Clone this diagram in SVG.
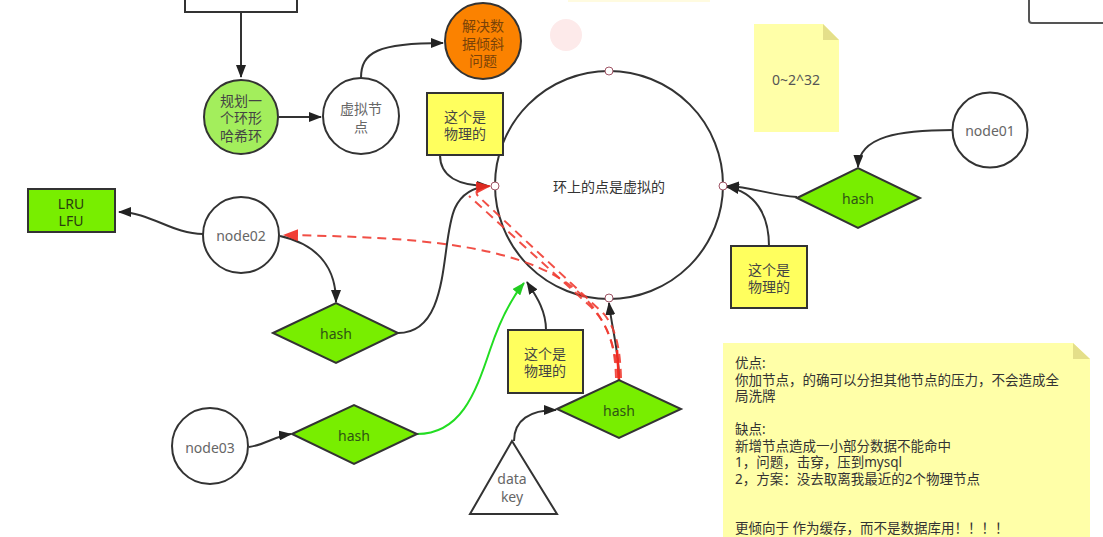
<svg xmlns="http://www.w3.org/2000/svg" width="1103" height="537" viewBox="0 0 1103 537">
<style>
text{font-family:"Noto Sans","Noto Sans CJK SC",sans-serif;font-size:14px;text-anchor:middle;dominant-baseline:central}
.ln{fill:none;stroke:#333;stroke-width:2}
.rd{fill:none;stroke:#f03c32;stroke-width:2;stroke-dasharray:9 6;opacity:0.9}
.gr{fill:none;stroke:#22dd22;stroke-width:2}
.dia{fill:#78ee00;stroke:#333;stroke-width:2}
.ybox{fill:#ffff5e;stroke:#333;stroke-width:2}
.wc{fill:#fff;stroke:#333;stroke-width:2}
.pt{fill:#fff;stroke:#a05566;stroke-width:1}
.note{fill:#ffffa8}
.fold{fill:#e4df8a}
.t{fill:#444}
.g{fill:#666}
.h{fill:#2f5514}
.n{font-size:13.5px;text-anchor:start;fill:#333}
</style>
<defs>
<marker id="ab" markerUnits="userSpaceOnUse" markerWidth="13" markerHeight="10" refX="12" refY="5" orient="auto" viewBox="0 0 13 10"><path d="M0,0 L13,5 L0,10 z" fill="#222"/></marker>
<marker id="ar" markerUnits="userSpaceOnUse" markerWidth="15" markerHeight="12" refX="14" refY="6" orient="auto" viewBox="0 0 15 12"><path d="M0,0 L15,6 L0,12 z" fill="#f02a20"/></marker>
<marker id="ag" markerUnits="userSpaceOnUse" markerWidth="13" markerHeight="10" refX="12" refY="5" orient="auto" viewBox="0 0 13 10"><path d="M0,0 L13,5 L0,10 z" fill="#22cc22"/></marker>
</defs>
<rect width="1103" height="537" fill="#fff"/>
<rect x="568" y="0" width="142" height="2" fill="#fffbe0"/>
<circle cx="566" cy="35" r="16" fill="#fdeaea"/>

<g id="ring">
<circle cx="609" cy="185" r="114" fill="none" stroke="#333" stroke-width="2"/>
<text x="609" y="186" fill="#333">环上的点是虚拟的</text>
</g>

<g id="connectors">
<path class="ln" d="M241,12 L241,77" marker-end="url(#ab)"/>
<path class="ln" d="M279,117 L321,117" marker-end="url(#ab)"/>
<path class="ln" d="M361,78 C361,52 378,43 443,43" marker-end="url(#ab)"/>
<path class="ln" d="M440,155 C440,176 458,186 489,186" marker-end="url(#ab)"/>
<path class="ln" d="M398,333 C452,333 440,240 455,208 C462,193 474,187 489,186"/>
<path class="ln" d="M203,234 C172,234 150,212 119,212" marker-end="url(#ab)"/>
<path class="ln" d="M280,236 C320,245 336,270 336,302" marker-end="url(#ab)"/>
<path class="ln" d="M953,130 C900,130 859,136 858,167" marker-end="url(#ab)"/>
<path class="ln" d="M797,197 C770,195 752,187 727,186" marker-end="url(#ab)"/>
<path class="ln" d="M769,246 C769,214 755,192 727,187" marker-end="url(#ab)"/>
<path class="ln" d="M249,447 C265,445 275,436 291,434" marker-end="url(#ab)"/>
<path class="gr" d="M417,434 C460,434 475,395 490,350 C500,320 510,300 524,283" marker-end="url(#ag)"/>
<path class="ln" d="M546,330 C546,310 536,296 527,282" marker-end="url(#ab)"/>
<path class="ln" d="M619,380 C619,350 612,330 609,303" marker-end="url(#ab)"/>
<path class="ln" d="M514,441 C514,420 530,410 556,410" marker-end="url(#ab)"/>
<path class="rd" d="M618,378 C610,250 470,238 284,235" marker-end="url(#ar)"/>
<path class="rd" d="M616,378 C615,342 607,323 590,306 L469,196"/>
<path class="rd" d="M621,378 C620,345 615,328 604,314 L478,196 Q472,188 490,186" marker-end="url(#ar)"/>
<path d="M619,380 L617,350" fill="none" stroke="#f02a20" stroke-width="2.5"/>
</g>

<g id="ring-points">
<circle cx="609" cy="71" r="4" class="pt"/>
<circle cx="495" cy="186" r="4" class="pt"/>
<circle cx="723" cy="186" r="4" class="pt"/>
<circle cx="609" cy="298" r="4" class="pt"/>
</g>

<g id="topbox"><rect x="185" y="-10" width="112" height="22" fill="#fff" stroke="#333" stroke-width="2"/></g>
<g id="topright"><rect x="1029" y="-10" width="90" height="33" rx="3" fill="#fff" stroke="#555" stroke-width="2"/></g>

<g id="ring-plan">
<circle cx="241" cy="117" r="37" fill="#a3ee5c" stroke="#333" stroke-width="2"/>
<text x="241" y="100" class="t">规划一</text>
<text x="241" y="117" class="t">个环形</text>
<text x="241" y="135" class="t">哈希环</text>
</g>
<g id="virtual-node">
<circle cx="361" cy="116" r="38" class="wc"/>
<text x="361" y="108" class="g">虚拟节</text>
<text x="361" y="126" class="g">点</text>
</g>
<g id="skew">
<circle cx="483" cy="41" r="38" fill="#fb8200" stroke="#333" stroke-width="2"/>
<text x="483" y="25" fill="#7a4208">解决数</text>
<text x="483" y="43" fill="#7a4208">据倾斜</text>
<text x="483" y="60" fill="#7a4208">问题</text>
</g>
<g id="phys1">
<rect x="427" y="93" width="76" height="62" class="ybox"/>
<text x="465" y="116" class="t">这个是</text>
<text x="465" y="133" class="t">物理的</text>
</g>
<g id="range-note">
<polygon points="754,24 823,24 839,40 839,132 754,132" class="note"/>
<polygon points="823,24 823,40 839,40" class="fold"/>
<text x="796" y="79" fill="#555" font-size="13">0~2^32</text>
</g>
<g id="node01">
<circle cx="990" cy="130" r="37.5" class="wc"/>
<text x="990" y="130" class="g">node01</text>
</g>
<g id="hash1">
<polygon points="797,198 858,168 920,198 858,228" class="dia"/>
<text x="858" y="198" class="h">hash</text>
</g>
<g id="phys2">
<rect x="731" y="246" width="76" height="62" class="ybox"/>
<text x="769" y="269" class="t">这个是</text>
<text x="769" y="286" class="t">物理的</text>
</g>
<g id="lru">
<rect x="28" y="189" width="87" height="43" fill="#78ee00" stroke="#333" stroke-width="2"/>
<text x="71" y="203" fill="#2a3d10">LRU</text>
<text x="71" y="220" fill="#2a3d10">LFU</text>
</g>
<g id="node02">
<circle cx="241" cy="235" r="38" class="wc"/>
<text x="241" y="235" class="g">node02</text>
</g>
<g id="hash2">
<polygon points="273,333 336,303 398,333 336,363" class="dia"/>
<text x="336" y="333" class="h">hash</text>
</g>
<g id="node03">
<circle cx="210" cy="446" r="38" class="wc"/>
<text x="210" y="447" class="g">node03</text>
</g>
<g id="hash3">
<polygon points="292,434 354,405 417,434 354,464" class="dia"/>
<text x="354" y="435" class="h">hash</text>
</g>
<g id="phys3">
<rect x="508" y="330" width="75" height="63" class="ybox"/>
<text x="545" y="353" class="t">这个是</text>
<text x="545" y="370" class="t">物理的</text>
</g>
<g id="hash4">
<polygon points="557,409 619,380 681,409 619,438" class="dia"/>
<text x="619" y="410" class="h">hash</text>
</g>
<g id="datakey">
<polygon points="512,441 557,514 470,514" fill="#fff" stroke="#333" stroke-width="2"/>
<text x="512" y="478" class="g">data</text>
<text x="512" y="496" class="g">key</text>
</g>
<g id="summary-note">
<polygon points="723,343 1073,343 1090,359 1090,537 723,537" class="note"/>
<polygon points="1073,343 1073,359 1090,359" class="fold"/>
<text x="735" y="363" class="n">优点:</text>
<text x="735" y="379.5" class="n">你加节点，的确可以分担其他节点的压力，不会造成全</text>
<text x="735" y="396" class="n">局洗牌</text>
<text x="735" y="429" class="n">缺点:</text>
<text x="735" y="445.5" class="n">新增节点造成一小部分数据不能命中</text>
<text x="735" y="462" class="n">1，问题，击穿，压到mysql</text>
<text x="735" y="478.5" class="n">2，方案：没去取离我最近的2个物理节点</text>
<text x="735" y="528" class="n">更倾向于 作为缓存，而不是数据库用！！！！</text>
</g>
</svg>
